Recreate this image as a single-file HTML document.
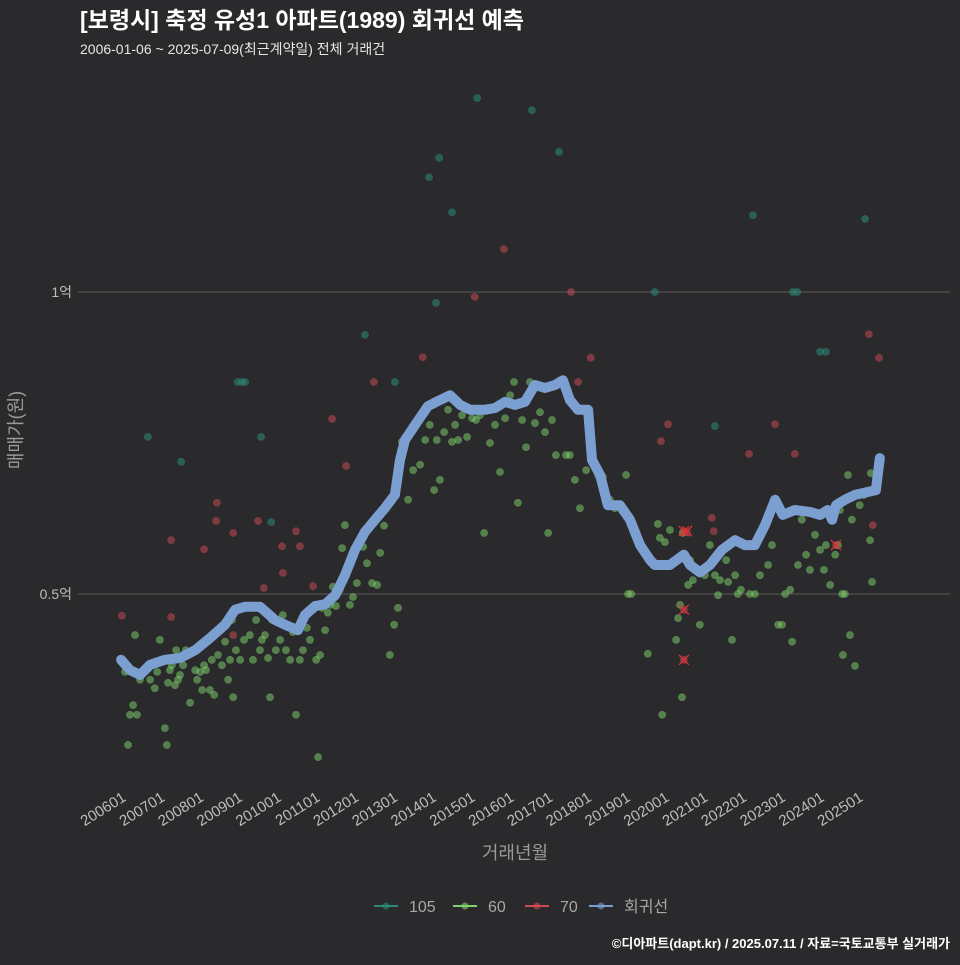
<!DOCTYPE html>
<html><head><meta charset="utf-8">
<style>
html,body{margin:0;padding:0;background:#2a2a2c;}
body{width:960px;height:960px;overflow:hidden;font-family:"Liberation Sans","Noto Sans CJK KR",sans-serif;}
svg text{font-family:"Liberation Sans","Noto Sans CJK KR",sans-serif;}
</style></head>
<body>
<svg id="chart" width="960" height="960" xmlns="http://www.w3.org/2000/svg">
<rect width="960" height="960" fill="#2a2a2c"/>
<text x="80" y="28" fill="#ffffff" font-size="23" font-weight="bold">[보령시] 축정 유성1 아파트(1989) 회귀선 예측</text>
<text x="80" y="54" fill="#e6e6e6" font-size="14">2006-01-06 ~ 2025-07-09(최근계약일) 전체 거래건</text>
<g id="grid"></g>
<g id="marks"></g>
<g id="xaxis"></g>
<text x="515" y="859" fill="#9a9a9a" font-size="18" text-anchor="middle">거래년월</text>
<text transform="translate(22,430) rotate(-90)" fill="#9a9a9a" font-size="18" text-anchor="middle">매매가(원)</text>
<g id="legend"></g>
<text x="950" y="948" fill="#ffffff" font-size="13" font-weight="bold" text-anchor="end">©디아파트(dapt.kr) / 2025.07.11 / 자료=국토교통부 실거래가</text>
</svg>
<script>
const xTickLabels=["200601","200701","200801","200901","201001","201101","201201","201301","201401","201501","201601","201701","201801","201901","202001","202101","202201","202301","202401","202501"];
const xTickYears=[2006,2007,2008,2009,2010,2011,2012,2013,2014,2015,2016,2017,2018,2019,2020,2021,2022,2023,2024,2025];
const yTickValues=[0.5,1];
const yTickLabels=["0.5억","1억"];
const series105=[[2006.64,0.760],[2007.50,0.719],[2008.96,0.851],[2009.07,0.851],[2009.15,0.851],[2009.56,0.760],[2009.82,0.619],[2012.24,0.929],[2013.01,0.851],[2013.89,1.190],[2014.15,1.222],[2014.48,1.132],[2015.13,1.321],[2016.54,1.301],[2017.24,1.232],[2019.71,1.0],[2022.24,1.127],[2023.27,1.0],[2023.38,1.0],[2023.97,0.901],[2024.12,0.901],[2025.13,1.121],[2014.07,0.982],[2015.46,0.808],[2021.26,0.778]];
const series70=[[2005.97,0.464],[2007.24,0.589],[2007.24,0.462],[2008.09,0.574],[2008.40,0.621],[2008.42,0.651],[2008.84,0.601],[2008.84,0.432],[2009.48,0.621],[2009.63,0.510],[2010.10,0.579],[2010.12,0.535],[2010.46,0.604],[2010.56,0.579],[2010.90,0.513],[2011.39,0.790],[2011.75,0.712],[2012.47,0.851],[2013.73,0.892],[2015.07,0.992],[2015.82,1.071],[2017.55,1.0],[2017.73,0.851],[2018.06,0.891],[2019.87,0.753],[2020.05,0.781],[2020.46,0.604],[2020.54,0.602],[2021.23,0.604],[2022.14,0.732],[2022.81,0.781],[2023.32,0.732],[2024.38,0.581],[2025.23,0.930],[2025.49,0.891],[2021.18,0.626],[2020.46,0.474],[2020.46,0.391],[2025.33,0.614]];
const series60=[[2006.05,0.371],[2006.13,0.250],[2006.18,0.300],[2006.26,0.316],[2006.31,0.432],[2006.36,0.300],[2006.44,0.358],[2006.52,0.374],[2006.70,0.358],[2006.82,0.344],[2006.88,0.371],[2006.95,0.424],[2007.03,0.391],[2007.08,0.278],[2007.13,0.250],[2007.16,0.353],[2007.21,0.374],[2007.26,0.382],[2007.34,0.349],[2007.37,0.407],[2007.42,0.358],[2007.47,0.366],[2007.55,0.382],[2007.62,0.407],[2007.73,0.320],[2007.86,0.374],[2007.91,0.358],[2007.99,0.371],[2008.04,0.341],[2008.09,0.382],[2008.14,0.374],[2008.24,0.341],[2008.29,0.391],[2008.35,0.333],[2008.45,0.399],[2008.55,0.382],[2008.63,0.421],[2008.71,0.358],[2008.76,0.391],[2008.81,0.457],[2008.84,0.329],[2008.91,0.407],[2009.02,0.391],[2009.12,0.424],[2009.17,0.477],[2009.27,0.432],[2009.35,0.391],[2009.43,0.457],[2009.53,0.407],[2009.58,0.424],[2009.66,0.432],[2009.74,0.394],[2009.79,0.329],[2009.84,0.457],[2009.94,0.407],[2010.05,0.424],[2010.12,0.465],[2010.20,0.407],[2010.31,0.391],[2010.38,0.437],[2010.46,0.300],[2010.56,0.391],[2010.64,0.407],[2010.74,0.444],[2010.82,0.424],[2010.90,0.474],[2010.98,0.391],[2011.03,0.230],[2011.08,0.399],[2011.13,0.477],[2011.21,0.440],[2011.28,0.469],[2011.34,0.482],[2011.41,0.512],[2011.49,0.480],[2011.59,0.507],[2011.65,0.576],[2011.72,0.614],[2011.85,0.482],[2011.93,0.495],[2012.03,0.518],[2012.19,0.578],[2012.29,0.551],[2012.42,0.518],[2012.55,0.515],[2012.63,0.568],[2012.73,0.613],[2012.88,0.399],[2012.99,0.449],[2013.09,0.477],[2013.19,0.752],[2013.35,0.656],[2013.48,0.705],[2013.66,0.714],[2013.79,0.755],[2013.91,0.780],[2014.02,0.672],[2014.09,0.755],[2014.17,0.689],[2014.28,0.768],[2014.38,0.805],[2014.48,0.752],[2014.56,0.780],[2014.64,0.755],[2014.74,0.796],[2014.87,0.760],[2015.00,0.791],[2015.10,0.788],[2015.20,0.796],[2015.31,0.601],[2015.38,0.808],[2015.46,0.750],[2015.59,0.780],[2015.72,0.702],[2015.85,0.791],[2015.98,0.829],[2016.08,0.851],[2016.18,0.651],[2016.29,0.788],[2016.39,0.743],[2016.49,0.851],[2016.62,0.783],[2016.75,0.801],[2016.88,0.768],[2016.96,0.601],[2017.06,0.788],[2017.16,0.730],[2017.42,0.730],[2017.52,0.730],[2017.65,0.689],[2017.78,0.642],[2017.94,0.705],[2018.25,0.697],[2018.37,0.694],[2018.55,0.656],[2018.68,0.642],[2018.97,0.697],[2019.02,0.500],[2019.10,0.500],[2019.53,0.401],[2019.79,0.616],[2019.84,0.593],[2019.97,0.586],[2020.10,0.606],[2020.26,0.424],[2020.31,0.460],[2020.36,0.482],[2020.41,0.329],[2020.57,0.515],[2020.62,0.556],[2020.69,0.523],[2020.87,0.449],[2021.00,0.531],[2021.13,0.581],[2021.26,0.531],[2021.34,0.498],[2021.39,0.523],[2021.55,0.556],[2021.60,0.520],[2021.70,0.424],[2021.78,0.531],[2021.85,0.500],[2021.93,0.507],[2022.03,0.581],[2022.16,0.500],[2022.29,0.500],[2022.42,0.531],[2022.63,0.548],[2022.73,0.581],[2022.89,0.449],[2022.99,0.449],[2023.07,0.500],[2023.20,0.507],[2023.25,0.421],[2023.40,0.548],[2023.50,0.623],[2023.61,0.565],[2023.71,0.540],[2023.84,0.598],[2023.97,0.573],[2024.07,0.540],[2024.12,0.581],[2024.23,0.515],[2024.36,0.565],[2024.43,0.581],[2024.54,0.500],[2024.61,0.500],[2024.69,0.697],[2024.74,0.432],[2024.79,0.623],[2024.87,0.381],[2025.26,0.589],[2025.31,0.520],[2025.28,0.700],[2024.48,0.639],[2025.10,0.664],[2024.56,0.399],[2024.99,0.647],[2019.90,0.300],[2020.43,0.601]];
const cancelled=[[2020.46,0.604],[2020.54,0.604],[2020.46,0.474],[2020.46,0.391],[2024.38,0.581]];
const regression=[[2005.95,0.391],[2006.18,0.374],[2006.44,0.366],[2006.70,0.383],[2007.08,0.391],[2007.47,0.394],[2007.86,0.407],[2008.24,0.427],[2008.63,0.449],[2008.89,0.474],[2009.15,0.479],[2009.53,0.479],[2009.92,0.457],[2010.18,0.449],[2010.51,0.440],[2010.69,0.465],[2010.95,0.480],[2011.21,0.483],[2011.47,0.498],[2011.72,0.531],[2011.98,0.573],[2012.24,0.603],[2012.50,0.623],[2012.75,0.642],[2013.01,0.664],[2013.14,0.722],[2013.27,0.755],[2013.53,0.780],[2013.86,0.811],[2014.17,0.821],[2014.43,0.829],[2014.69,0.813],[2014.95,0.805],[2015.33,0.805],[2015.59,0.808],[2015.85,0.818],[2016.11,0.813],[2016.36,0.818],[2016.62,0.846],[2016.88,0.841],[2017.14,0.846],[2017.34,0.854],[2017.52,0.821],[2017.73,0.805],[2017.99,0.805],[2018.09,0.722],[2018.30,0.697],[2018.50,0.647],[2018.81,0.647],[2019.07,0.623],[2019.33,0.581],[2019.59,0.556],[2019.71,0.548],[2020.10,0.548],[2020.46,0.565],[2020.62,0.548],[2020.87,0.536],[2021.13,0.548],[2021.44,0.573],[2021.78,0.589],[2022.03,0.581],[2022.29,0.581],[2022.55,0.614],[2022.81,0.656],[2023.01,0.631],[2023.32,0.639],[2023.71,0.636],[2023.97,0.631],[2024.17,0.639],[2024.28,0.623],[2024.38,0.647],[2024.61,0.656],[2024.87,0.664],[2025.21,0.669],[2025.41,0.672],[2025.51,0.725]];

const NS="http://www.w3.org/2000/svg";
function xScale(yr){return 123+(yr-2006)*38.79;}
function yScale(v){return 896-v*604;}
function mk(tag,attrs,parent){const e=document.createElementNS(NS,tag);for(const k in attrs)e.setAttribute(k,attrs[k]);parent.appendChild(e);return e;}
const grid=document.getElementById('grid');
const marks=document.getElementById('marks');
const xaxis=document.getElementById('xaxis');
const legend=document.getElementById('legend');

yTickValues.forEach((v,i)=>{
  const l=mk('line',{x1:78,x2:950,y1:yScale(v),y2:yScale(v),stroke:'#5a5a5a','stroke-width':1},grid);
  
  
  const t=mk('text',{x:72,y:yScale(v)+5,fill:'#bdbdbd','font-size':14,'text-anchor':'end'},grid);
  t.textContent=yTickLabels[i];
  
  
});
xTickYears.forEach((yr,i)=>{
  const x=xScale(yr);
  const t=mk('text',{transform:`translate(${x+4},${800}) rotate(-32)`,fill:'#bdbdbd','font-size':15,'text-anchor':'end'},xaxis);
  t.textContent=xTickLabels[i];
  
  
});
function drawPts(arr,fill,op,name){
  arr.forEach(p=>{
    const c=mk('circle',{cx:xScale(p[0]),cy:yScale(p[1]),r:3.6,fill:fill,'fill-opacity':op,stroke:fill,'stroke-opacity':op*0.8,'stroke-width':0.6},marks);
    
    
  });
}
drawPts(series105,'#2c8a78',0.55,'point-105');
drawPts(series60,'#7fd46b',0.5,'point-60');
drawPts(series70,'#d04a55',0.5,'point-70');
cancelled.forEach(p=>{
  const x=xScale(p[0]),y=yScale(p[1]);
  const g=mk('path',{d:`M${x-5},${y-5}L${x+5},${y+5}M${x-5},${y+5}L${x+5},${y-5}`,stroke:'#e03030','stroke-width':1.3,fill:'none'},marks);
  
  
});
const path=regression.map((p,i)=>(i?'L':'M')+xScale(p[0]).toFixed(1)+','+yScale(p[1]).toFixed(1)).join(' ');
const rl=mk('path',{d:path,stroke:'#7b9fd0',
'stroke-width':10,fill:'none','stroke-linejoin':'round','stroke-linecap':'round'},marks);



const legItems=[['105','#2c8a78',374],['60','#7fd46b',453],['70','#d04a55',525],['회귀선','#7b9fd0',589]];
legItems.forEach(it=>{
  const x=it[2];
  const ln=mk('line',{x1:x,x2:x+24,y1:906,y2:906,stroke:it[1],'stroke-width':2},legend);
  
  
  const c=mk('circle',{cx:x+12,cy:906,r:3.5,fill:it[1],'fill-opacity':0.6},legend);
  
  
  const t=mk('text',{x:x+35,y:912,fill:'#a8a8a8','font-size':16},legend);
  t.textContent=it[0];
  
  
});
</script>
</body></html>
